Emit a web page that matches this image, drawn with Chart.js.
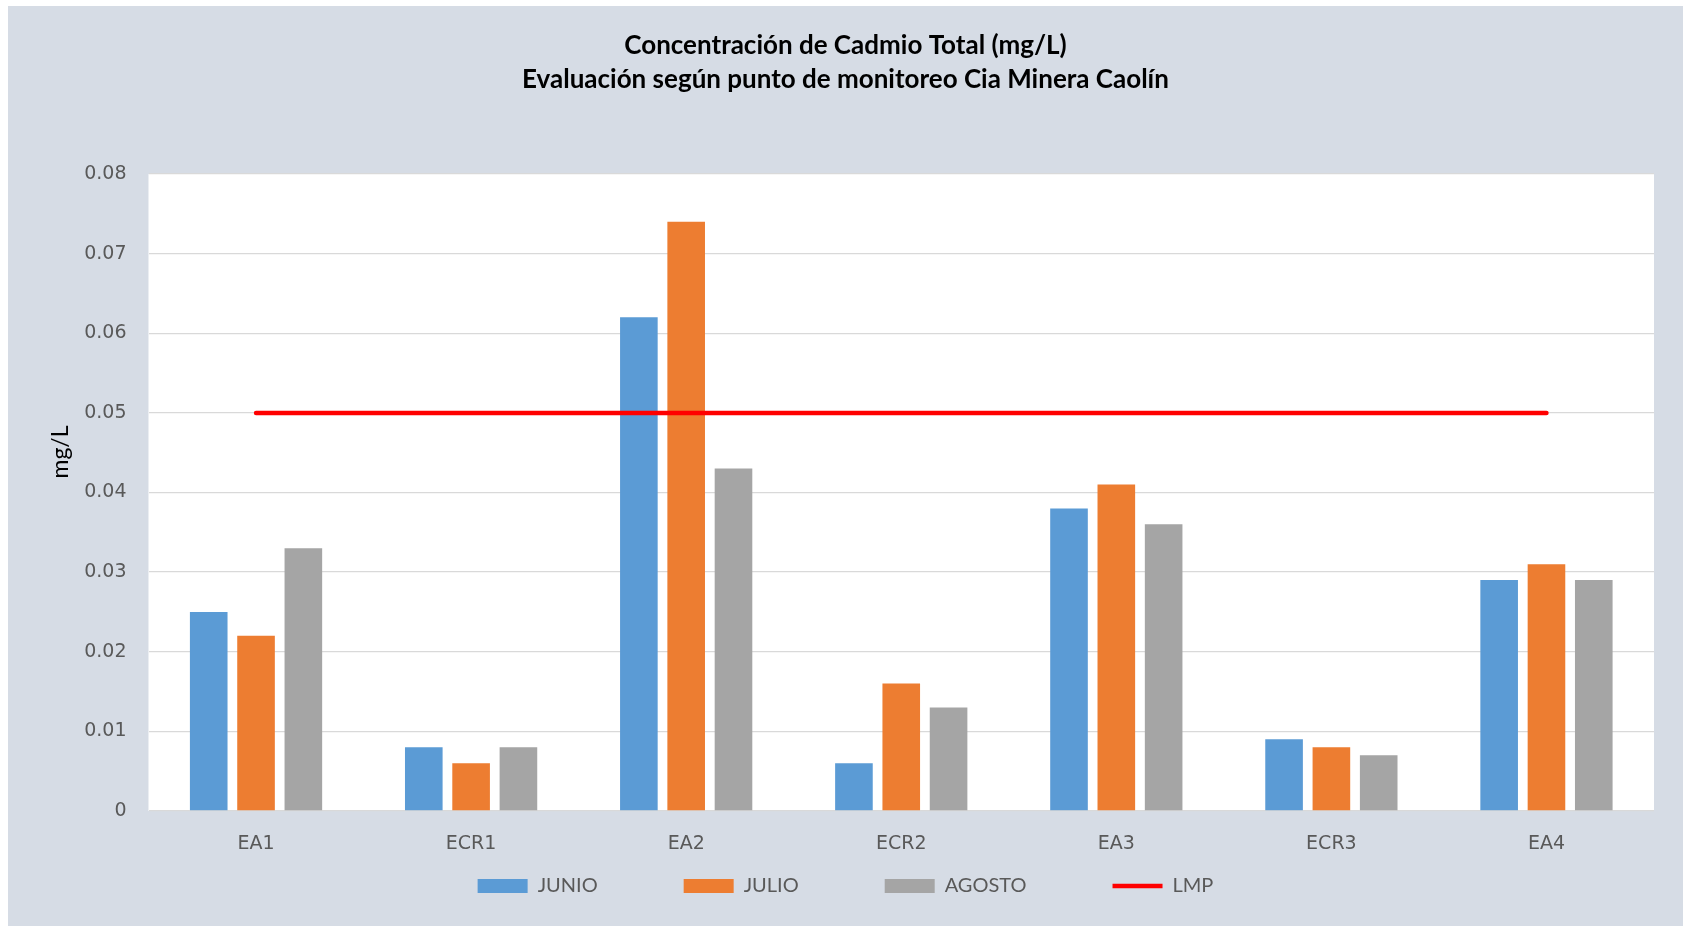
<!DOCTYPE html>
<html>
<head>
<meta charset="utf-8">
<script src="https://cdn.jsdelivr.net/npm/chart.js@4/dist/chart.umd.min.js"></script>
<style>
  html, body { margin: 0; padding: 0; background: #ffffff; }
  #panel {
    position: absolute;
    left: 8px;
    top: 6px;
    width: 1675px;
    height: 920px;
    background: #d6dce5;
  }
</style>
</head>
<body>
<div id="panel"><canvas id="cadmio" width="1675" height="920"></canvas></div>
<script>
// monitoring points
let puntos = ["EA1", "ECR1", "EA2", "ECR2", "EA3", "ECR3", "EA4"];

// total cadmium, mg/L
let junio = [0.025, 0.008, 0.062, 0.006, 0.038, 0.009, 0.029];
let julio = [0.022, 0.006, 0.074, 0.016, 0.041, 0.008, 0.031];
let agosto = [0.033, 0.008, 0.043, 0.013, 0.036, 0.007, 0.029];

// limite maximo permisible
let lmp = [0.05, 0.05, 0.05, 0.05, 0.05, 0.05, 0.05];

let yTicks = [0, 0.01, 0.02, 0.03, 0.04, 0.05, 0.06, 0.07, 0.08];

let textGray = "#595959";

// white fill behind the plot area only
let plotBg = {
  id: "plotBg",
  beforeDraw: function (chart) {
    let a = chart.chartArea;
    let ctx = chart.ctx;
    ctx.save();
    ctx.fillStyle = "#ffffff";
    ctx.fillRect(a.left, a.top, a.right - a.left, a.bottom - a.top);
    ctx.restore();
  },
};

// vertical axis caption, sits a bit above the middle of the axis
let yCaption = {
  id: "yCaption",
  afterDraw: function (chart) {
    let ctx = chart.ctx;
    ctx.save();
    ctx.translate(53, 446);
    ctx.rotate(-Math.PI / 2);
    ctx.fillStyle = "#000000";
    ctx.font = "23px Lato";
    ctx.textAlign = "center";
    ctx.textBaseline = "middle";
    ctx.fillText("mg/L", 0, 0);
    ctx.restore();
  },
};

let barSet = function (label, values, color) {
  return {
    type: "bar",
    label: label,
    data: values,
    backgroundColor: color,
    borderWidth: 0,
    pointStyle: "rect",
    categoryPercentage: 0.66,
    barPercentage: 0.795,
  };
};

// wider gaps between legend entries (em spaces after the text)
let legendLabels = function (chart) {
  let items = Chart.defaults.plugins.legend.labels.generateLabels(chart);
  items.sort(function (a, b) {
    return a.datasetIndex - b.datasetIndex;
  });
  items.forEach(function (item, i) {
    if (i < items.length - 1) item.text = item.text + "\u2003\u2003\u2003\u2003";
  });
  return items;
};

new Chart(document.getElementById("cadmio"), {
  data: {
    labels: puntos,
    datasets: [
      barSet("JUNIO", junio, "#5b9bd5"),
      barSet("JULIO", julio, "#ed7d31"),
      barSet("AGOSTO", agosto, "#a5a5a5"),
      {
        type: "line",
        label: "LMP",
        data: lmp,
        borderColor: "#ff0000",
        backgroundColor: "#ff0000",
        borderWidth: 4.5,
        borderCapStyle: "round",
        pointRadius: 0,
        pointStyle: "line",
        order: -1, // keep the limit line above the bars
      },
    ],
  },
  options: {
    responsive: false,
    animation: false,
    layout: { padding: { left: 29, right: 29, top: 0, bottom: 20 } },
    plugins: {
      title: {
        display: true,
        text: [
          "Concentración de Cadmio Total (mg/L)",
          "Evaluación según punto de monitoreo Cia Minera Caolín",
        ],
        color: "#000000",
        font: { family: "Lato", size: 26, weight: "bold", lineHeight: 1.327 },
        padding: { top: 22, bottom: 77 },
      },
      legend: {
        position: "bottom",
        labels: {
          usePointStyle: true,
          pointStyleWidth: 50,
          boxHeight: 14,
          padding: 26,
          color: textGray,
          font: { family: "Lato", size: 20 },
          generateLabels: legendLabels,
        },
      },
      tooltip: { enabled: false },
    },
    scales: {
      x: {
        grid: { display: false },
        border: { display: false },
        ticks: {
          color: textGray,
          padding: 14,
          font: { family: "DejaVu Sans", size: 19 },
        },
        afterFit: function (scale) {
          scale.height = 39;
        },
      },
      y: {
        min: 0,
        max: 0.08,
        grid: { color: "#d9d9d9", lineWidth: 1.3, drawTicks: false },
        border: { display: false },
        afterBuildTicks: function (scale) {
          scale.ticks = yTicks.map(function (v) {
            return { value: v };
          });
        },
        ticks: {
          color: textGray,
          padding: 22,
          font: { family: "DejaVu Sans", size: 19 },
          callback: function (v) {
            return v === 0 ? "0" : v.toFixed(2);
          },
        },
        afterFit: function (scale) {
          scale.width = 111.5;
        },
      },
    },
  },
  plugins: [plotBg, yCaption],
});
</script>
</body>
</html>
